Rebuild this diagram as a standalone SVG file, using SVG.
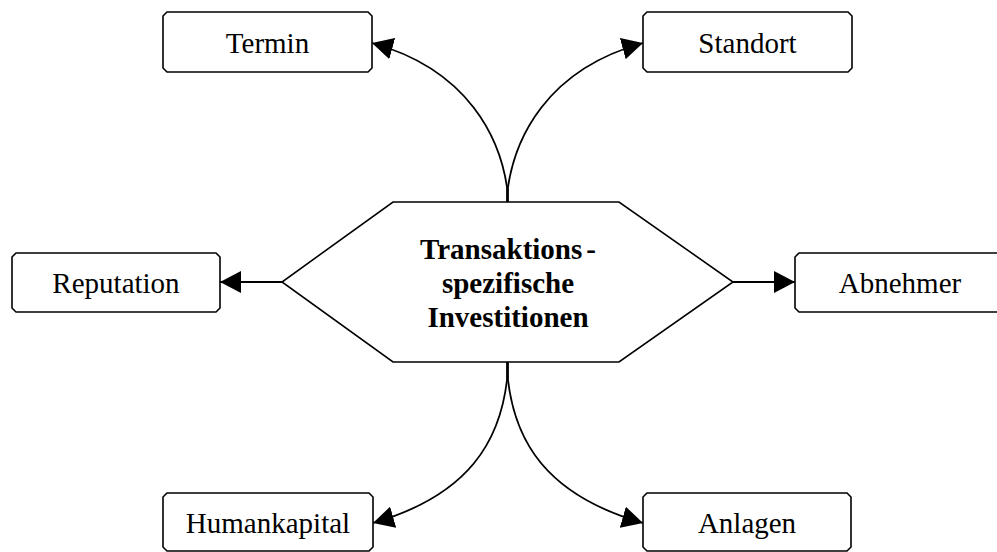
<svg xmlns="http://www.w3.org/2000/svg" width="997" height="552" viewBox="0 0 997 552">
  <style>
    .box { fill: #ffffff; stroke: #000000; stroke-width: 1.6; }
    .hub { fill: #ffffff; stroke: #000000; stroke-width: 1.6; }
    .label { font-family: "Liberation Serif", "Times New Roman", serif; font-size: 29px; fill: #000000; text-anchor: middle; }
    .hub-label { font-family: "Liberation Serif", "Times New Roman", serif; font-size: 29px; font-weight: bold; fill: #000000; text-anchor: middle; }
    .edge { fill: none; stroke: #000000; stroke-width: 1.8; marker-end: url(#arrow); }
  </style>
  <defs>
    <marker id="arrow" markerUnits="userSpaceOnUse" markerWidth="22" markerHeight="22" refX="21" refY="11" orient="auto" viewBox="0 0 22 22">
      <path d="M0,0 L21,11 L0,22 Z" fill="#000000"/>
    </marker>
  </defs>

  <!-- connectors from the hub to the surrounding factors -->
  <g id="connectors">
    <path class="edge" d="M507,202 L507,187 C500,140 470,70 372,43"/>
    <path class="edge" d="M508,202 L508,187 C515,140 545,70 643,43"/>
    <path class="edge" d="M282,282 L220,282"/>
    <path class="edge" d="M733,282 L795,282"/>
    <path class="edge" d="M507,362 L507,380 C500,440 470,495 373,523"/>
    <path class="edge" d="M508,362 L508,380 C515,440 545,495 643,523"/>
  </g>

  <!-- central hexagon -->
  <g id="hub">
    <polygon class="hub" points="393,202 619,202 733,282 619,362 393,362 282,282"/>
    <text class="hub-label" x="508" y="259">Transaktions<tspan dx="4">-</tspan></text>
    <text class="hub-label" x="508" y="293">spezifische</text>
    <text class="hub-label" x="508" y="327">Investitionen</text>
  </g>

  <g id="termin">
    <path class="box" d="M167,12 L368,12 L372,16 L372,68 L368,72 L167,72 L163,68 L163,16 Z"/>
    <text class="label" x="267.5" y="53">Termin</text>
  </g>

  <g id="standort">
    <path class="box" d="M647,12 L848,12 L852,16 L852,68 L848,72 L647,72 L643,68 L643,16 Z"/>
    <text class="label" x="747.5" y="53">Standort</text>
  </g>

  <g id="reputation">
    <path class="box" d="M16,253 L216,253 L220,257 L220,308 L216,312 L16,312 L12,308 L12,257 Z"/>
    <text class="label" x="116" y="293">Reputation</text>
  </g>

  <g id="abnehmer">
    <path class="box" d="M799,253 L1001,253 L1005,257 L1005,308 L1001,312 L799,312 L795,308 L795,257 Z"/>
    <text class="label" x="900" y="293">Abnehmer</text>
  </g>

  <g id="humankapital">
    <path class="box" d="M167,493 L369,493 L373,497 L373,547 L369,551 L167,551 L163,547 L163,497 Z"/>
    <text class="label" x="268" y="533">Humankapital</text>
  </g>

  <g id="anlagen">
    <path class="box" d="M647,493 L847,493 L851,497 L851,547 L847,551 L647,551 L643,547 L643,497 Z"/>
    <text class="label" x="747" y="533">Anlagen</text>
  </g>
</svg>
